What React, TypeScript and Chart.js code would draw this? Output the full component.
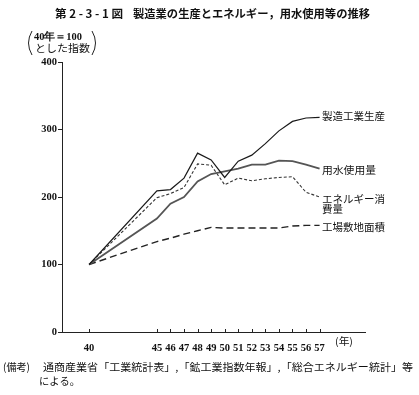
import React, { useEffect, useRef } from "react";
import { Chart, registerables } from "chart.js";

Chart.register(...registerables);

const years = [40, 45, 46, 47, 48, 49, 50, 51, 52, 53, 54, 55, 56, 57];
const xTickYears = [40, 45, 46, 47, 48, 49, 50, 51, 52, 53, 54, 55, 56, 57];
const yTicks = [0, 100, 200, 300, 400];
const production = [100, 209, 211, 228, 265, 255, 229, 253, 262, 279, 298, 312, 317, 318];
const water = [100, 168, 190, 200, 223, 234, 238, 242, 248, 248, 254, 253, 248, 242];
const energy = [100, 199, 205, 214, 249, 247, 218, 228, 224, 227, 229, 230, 207, 200];
const land = [100, 134, 139, 145, 150, 155, 154, 154, 154, 154, 154, 157, 158, 158];
const seriesNames = ["製造工業生産", "用水使用量", "エネルギー消費量", "工場敷地面積"];

const JP = '"Noto Sans CJK JP", "Noto Sans", sans-serif';
const SERIF = '"Liberation Serif", "DejaVu Serif", serif';

function drawFit(ctx: CanvasRenderingContext2D, text: string, x: number, y: number, width: number, font: string) {
  ctx.save();
  ctx.font = font;
  ctx.textAlign = "left";
  ctx.textBaseline = "middle";
  const w = ctx.measureText(text).width;
  const s = w > 0 ? width / w : 1;
  ctx.translate(x, y);
  ctx.scale(s, 1);
  ctx.fillText(text, 0, 0);
  ctx.restore();
}

const textPlugin = {
  id: "texts",
  afterDraw(chart: any) {
    const ctx: CanvasRenderingContext2D = chart.ctx;
    const xs = chart.scales.x;
    const ys = chart.scales.y;
    ctx.save();
    ctx.fillStyle = "#111";
    // x tick marks pointing up
    ctx.strokeStyle = "#222";
    ctx.lineWidth = 1;
    const bottom = chart.chartArea.bottom;
    xTickYears.forEach((v) => {
      const px = Math.round(xs.getPixelForValue(v)) + 0.5;
      ctx.beginPath();
      ctx.moveTo(px, bottom);
      ctx.lineTo(px, bottom - 3);
      ctx.stroke();
    });
    // title
    drawFit(ctx, "第 2 - 3 - 1 図", 55, 14, 68, `bold 11px ${JP}`);
    drawFit(ctx, "製造業の生産とエネルギー，用水使用等の推移", 133, 14, 237, `bold 11px ${JP}`);
    // unit label
    drawFit(ctx, "40年＝100", 34, 37.5, 48, `bold 10.5px ${SERIF}`);
    drawFit(ctx, "とした指数", 35, 48.5, 55, `10.5px ${JP}`);
    ctx.lineWidth = 1;
    ctx.strokeStyle = "#222";
    ctx.beginPath();
    ctx.moveTo(32, 31);
    ctx.quadraticCurveTo(25, 43, 32, 55);
    ctx.stroke();
    ctx.beginPath();
    ctx.moveTo(92, 31);
    ctx.quadraticCurveTo(99, 43, 92, 55);
    ctx.stroke();
    // x unit
    drawFit(ctx, "(年)", 335, 341, 18, `10px ${JP}`);
    // series labels
    const lx = 322;
    const last = years.length - 1;
    drawFit(ctx, seriesNames[0], lx, ys.getPixelForValue(production[last]) - 1, 63, `10.5px ${JP}`);
    drawFit(ctx, seriesNames[1], lx, ys.getPixelForValue(water[last]) + 1, 54, `10.5px ${JP}`);
    const ey = ys.getPixelForValue(energy[last]) + 2.5;
    drawFit(ctx, seriesNames[2].slice(0, 6), lx, ey, 63, `10.5px ${JP}`);
    drawFit(ctx, seriesNames[2].slice(6), lx, ey + 10, 21, `10.5px ${JP}`);
    drawFit(ctx, seriesNames[3], lx, ys.getPixelForValue(land[last]) + 2, 63, `10.5px ${JP}`);
    // footnote
    drawFit(ctx, "(備考)", 3, 367, 27, `10.5px ${JP}`);
    drawFit(ctx, "通商産業省「工業統計表」,「鉱工業指数年報」,「総合エネルギー統計」等", 43, 367, 370, `10.5px ${JP}`);
    drawFit(ctx, "による。", 39, 381, 41, `10.5px ${JP}`);
    ctx.restore();
  },
};

export default function App() {
  const ref = useRef<HTMLCanvasElement | null>(null);
  useEffect(() => {
    document.body.style.margin = "0";
    const canvas = ref.current;
    if (!canvas) return;
    const mk = (arr: number[]) => years.map((y, i) => ({ x: y, y: arr[i] }));
    const chart = new Chart(canvas, {
      type: "line",
      data: {
        datasets: [
          { label: seriesNames[0], data: mk(production), borderColor: "#1a1a1a", borderWidth: 1.2, pointRadius: 0, tension: 0 },
          { label: seriesNames[1], data: mk(water), borderColor: "#555", borderWidth: 1.8, pointRadius: 0, tension: 0 },
          { label: seriesNames[2], data: mk(energy), borderColor: "#333", borderWidth: 1.1, borderDash: [3, 2], pointRadius: 0, tension: 0 },
          { label: seriesNames[3], data: mk(land), borderColor: "#222", borderWidth: 1.4, borderDash: [7, 4], pointRadius: 0, tension: 0 },
        ],
      },
      options: {
        animation: false,
        responsive: false,
        events: [],
        layout: { padding: { left: 0, right: 54, top: 62, bottom: 0 } },
        plugins: { legend: { display: false }, tooltip: { enabled: false }, title: { display: false } },
        scales: {
          x: {
            type: "linear",
            min: 38,
            max: 60.35,
            afterBuildTicks: (s: any) => {
              s.ticks = xTickYears.map((v) => ({ value: v }));
            },
            afterFit: (s: any) => {
              s.height = 63;
            },
            grid: { display: false },
            border: { display: true, color: "#222", width: 1 },
            ticks: {
              autoSkip: false,
              maxRotation: 0,
              padding: 2,
              color: "#111",
              font: { family: SERIF, size: 10.5, weight: "bold" },
              callback: (v: any) => String(v),
            },
          },
          y: {
            type: "linear",
            min: 0,
            max: 400,
            afterBuildTicks: (s: any) => {
              s.ticks = yTicks.map((v) => ({ value: v }));
            },
            afterFit: (s: any) => {
              s.width = 62;
            },
            grid: { display: true, drawOnChartArea: false, drawTicks: true, tickLength: 4, color: "#222" },
            border: { display: true, color: "#222", width: 1 },
            ticks: {
              padding: 1,
              color: "#111",
              font: { family: SERIF, size: 10.5, weight: "bold" },
              callback: (v: any) => String(v),
            },
          },
        },
      },
      plugins: [textPlugin],
    } as any);
    return () => chart.destroy();
  }, []);
  return (
    <div style={{ position: "relative", width: 419, height: 395, background: "#fff" }}>
      <canvas ref={ref} width={419} height={395} style={{ width: 419, height: 395, display: "block" }} />
    </div>
  );
}
